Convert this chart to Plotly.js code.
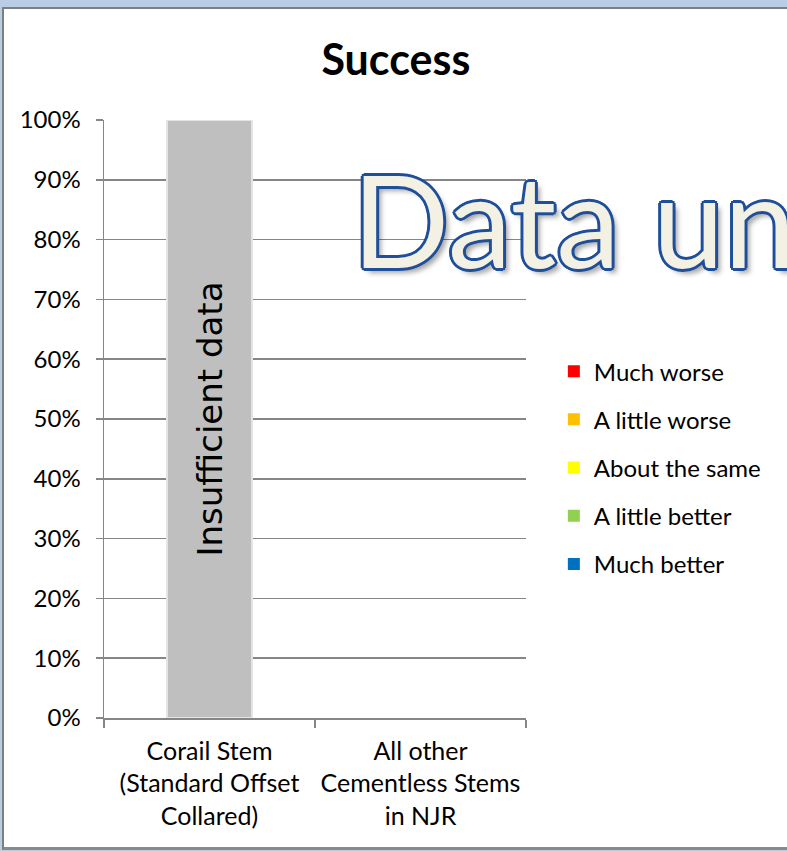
<!DOCTYPE html>
<html>
<head>
<meta charset="utf-8">
<script src="https://cdn.plot.ly/plotly-3.0.1.min.js"></script>
<style>
  html, body { margin: 0; padding: 0; width: 787px; height: 851px; overflow: hidden; background: #b9cde5; }
  #frame { position: absolute; left: 2px; top: 7px; width: 800px; height: 838px; background: #ffffff;
           border-left: 2px solid #7f7f7f; border-top: 2px solid #7f7f7f; border-bottom: 3px solid #8a8a8a; }
  #chart { position: absolute; left: 0; top: 0; width: 787px; height: 851px; }
</style>
</head>
<body>
<div id="frame"></div>
<div id="chart"></div>
<script>
// ---- data ----
const categories = ["Corail Stem<br>(Standard Offset<br>Collared)", "All other<br>Cementless Stems<br>in NJR"];
const seriesNames = ["Much worse", "A little worse", "About the same", "A little better", "Much better"];
const seriesColors = ["#ff0000", "#ffc000", "#ffff00", "#92d050", "#0070c0"];
const muchWorse = [0, 0];
const aLittleWorse = [0, 0];
const aboutTheSame = [0, 0];
const aLittleBetter = [0, 0];
const muchBetter = [0, 0];
const insufficient = [1, null];
const insufficientLabel = "Insufficient data";
const yTickVals = [0, 0.1, 0.2, 0.3, 0.4, 0.5, 0.6, 0.7, 0.8, 0.9, 1.0];
const titleText = "Success";
const watermarkText = "Data un";

const seriesValues = [muchWorse, aLittleWorse, aboutTheSame, aLittleBetter, muchBetter];
const FONT = "Lato, Carlito, Calibri, sans-serif";

const traces = [];
traces.push({
  type: "bar", x: categories, y: insufficient, name: insufficientLabel, showlegend: false,
  marker: { color: "#bfbfbf", line: { color: "#e4e4e4", width: 2 } },
  text: [insufficientLabel, ""], textposition: "inside", insidetextanchor: "middle",
  textangle: -90, textfont: { family: "DejaVu Sans, sans-serif", size: 34, color: "#000000" },
  hoverinfo: "skip"
});
for (let i = seriesNames.length - 1; i >= 0; i--) {
  traces.push({
    type: "bar", x: categories, y: seriesValues[i], name: seriesNames[i],
    legendgroup: "g" + i, legendrank: i + 1,
    marker: { color: seriesColors[i], line: { width: 0 } }
  });
}

const OUT = "#1f4f9a";
const layout = {
  width: 787, height: 851,
  paper_bgcolor: "rgba(0,0,0,0)", plot_bgcolor: "rgba(0,0,0,0)",
  margin: { l: 104, r: 261, t: 120, b: 133, pad: 0 },
  barmode: "stack", bargap: 0.6,
  font: { family: FONT, size: 24, color: "#000000" },
  title: { text: "<b>" + titleText + "</b>", font: { family: FONT, size: 43, color: "#000000" },
           x: 0.503, xref: "container", xanchor: "center", y: 0.929, yref: "container", yanchor: "middle" },
  xaxis: {
    type: "category", showgrid: false, showline: true, linecolor: "#868686", linewidth: 1.5,
    ticks: "outside", tickson: "boundaries", ticklen: 8, tickcolor: "#868686", tickwidth: 1.5,
    tickfont: { family: FONT, size: 25, color: "#000000" }, ticklabelstandoff: 10, fixedrange: true
  },
  yaxis: {
    range: [0, 1], tickvals: yTickVals, tickformat: ".0%", showgrid: true, gridcolor: "#868686", gridwidth: 1.5,
    showline: true, linecolor: "#868686", linewidth: 1.5, ticks: "outside", ticklen: 7, tickcolor: "#868686", tickwidth: 1.5,
    tickfont: { family: FONT, size: 24, color: "#000000" }, ticklabelstandoff: 10, zeroline: false, fixedrange: true
  },
  legend: {
    x: 1.066, xanchor: "left", y: 0.617, yanchor: "top", traceorder: "grouped", tracegroupgap: 14,
    font: { family: FONT, size: 24, color: "#000000" }, bgcolor: "rgba(0,0,0,0)"
  },
  annotations: [{
    text: watermarkText, xref: "paper", yref: "paper", x: 0.583, y: 0.835, xanchor: "left", yanchor: "middle",
    showarrow: false,
    font: { family: FONT, size: 128, color: "#f3f0e4",
      shadow: "3px 0 0 " + OUT + ", -3px 0 0 " + OUT + ", 0 3px 0 " + OUT + ", 0 -3px 0 " + OUT + ", 2px 2px 0 " + OUT + ", -2px -2px 0 " + OUT + ", 2px -2px 0 " + OUT + ", -2px 2px 0 " + OUT + ", 5px 5px 5px rgba(0,0,0,0.35)" }
  }]
};

Plotly.newPlot("chart", traces, layout, { displayModeBar: false, staticPlot: true });
</script>
</body>
</html>
